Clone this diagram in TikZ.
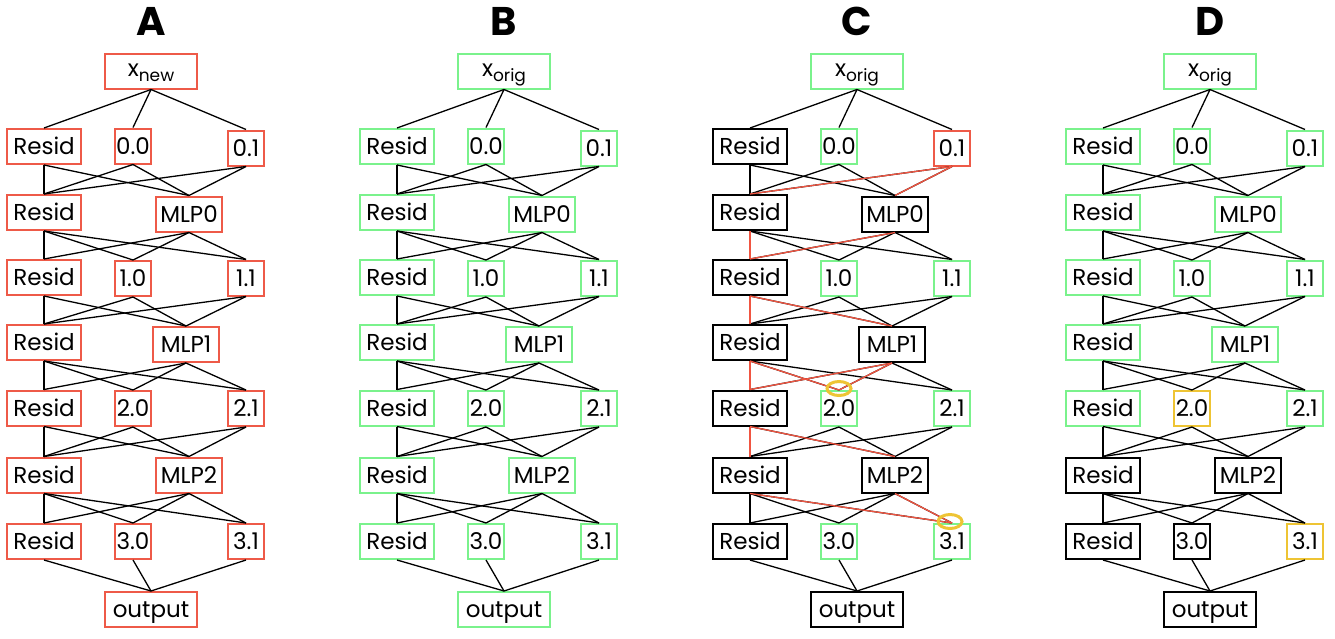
\documentclass[tikz,border=0pt]{standalone}
\usepackage{fontspec}
\setmainfont{Poppins}
\usetikzlibrary{shapes.geometric}
\definecolor{cred}{RGB}{238,90,72}
\definecolor{cgreen}{RGB}{122,242,140}
\definecolor{cyellow}{RGB}{238,196,52}
\definecolor{cedge}{RGB}{240,85,65}
\tikzset{
  box/.style={draw, line width=2pt, inner sep=0pt, minimum height=35pt,
    text height=16pt, text depth=0pt, font=\fontsize{23}{23}\selectfont},
  residbox/.style={minimum width=74pt},
  headbox/.style={minimum width=36pt},
  mlpbox/.style={minimum width=66pt},
  endbox/.style={minimum width=92pt},
  redc/.style={draw=cred}, greenc/.style={draw=cgreen},
  blackc/.style={draw=black}, yellowc/.style={draw=cyellow},
  edge/.style={line width=1.3pt, black},
  redge/.style={line width=1.3pt, cedge},
  paneltitle/.style={font=\fontsize{40}{40}\selectfont\bfseries, anchor=base, inner sep=0pt},
  ring/.style={draw=cyellow, line width=3pt, ellipse, inner sep=0pt, minimum width=24pt, minimum height=14pt},
  A-all/.style={redc}, B-all/.style={greenc}, C-all/.style={blackc}, D-all/.style={blackc},
  C-in/.style={greenc}, C-a0/.style={greenc}, C-b0/.style={redc},
  C-a1/.style={greenc}, C-b1/.style={greenc}, C-a2/.style={greenc}, C-b2/.style={greenc},
  C-a3/.style={greenc}, C-b3/.style={greenc},
  D-in/.style={greenc}, D-r1/.style={greenc}, D-a0/.style={greenc}, D-b0/.style={greenc},
  D-r2/.style={greenc}, D-m0/.style={greenc}, D-r3/.style={greenc}, D-a1/.style={greenc},
  D-b1/.style={greenc}, D-r4/.style={greenc}, D-m1/.style={greenc}, D-r5/.style={greenc},
  D-a2/.style={yellowc}, D-b2/.style={greenc}, D-b3/.style={yellowc},
}
\newcommand\subtxt[1]{\raisebox{-5pt}{\fontsize{17}{17}\selectfont #1}}
\newcommand\drawpanel[4]{%
\begin{scope}[xshift=#2pt]
\node[paneltitle] (#1T) at (151,35) {#3};
\node[box,endbox,#1-all,#1-in/.try,text height=10pt] (#1in) at (151,71) {#4};
\node[box,residbox,#1-all,#1-r1/.try] (#1r1) at (44,146.5) {Resid};
\node[box,headbox,#1-all,#1-a0/.try] (#1a0) at (133,146) {0.0};
\node[box,headbox,#1-all,#1-b0/.try] (#1b0) at (246,148) {0.1};
\node[box,residbox,#1-all,#1-r2/.try] (#1r2) at (44,212.5) {Resid};
\node[box,mlpbox,#1-all,#1-m0/.try] (#1m0) at (189,214) {MLP0};
\node[box,residbox,#1-all,#1-r3/.try] (#1r3) at (44,277.5) {Resid};
\node[box,headbox,#1-all,#1-a1/.try] (#1a1) at (133,278.5) {1.0};
\node[box,headbox,#1-all,#1-b1/.try] (#1b1) at (246,278) {1.1};
\node[box,residbox,#1-all,#1-r4/.try] (#1r4) at (44,342.5) {Resid};
\node[box,mlpbox,#1-all,#1-m1/.try] (#1m1) at (186,344.5) {MLP1};
\node[box,residbox,#1-all,#1-r5/.try] (#1r5) at (44,408) {Resid};
\node[box,headbox,#1-all,#1-a2/.try] (#1a2) at (133,408.5) {2.0};
\node[box,headbox,#1-all,#1-b2/.try] (#1b2) at (246,408.5) {2.1};
\node[box,residbox,#1-all,#1-r6/.try] (#1r6) at (44,475) {Resid};
\node[box,mlpbox,#1-all,#1-m2/.try] (#1m2) at (189,475) {MLP2};
\node[box,residbox,#1-all,#1-r7/.try] (#1r7) at (44,541.5) {Resid};
\node[box,headbox,#1-all,#1-a3/.try] (#1a3) at (133,541.5) {3.0};
\node[box,headbox,#1-all,#1-b3/.try] (#1b3) at (246,541.5) {3.1};
\node[box,endbox,#1-all,#1-out/.try] (#1out) at (151,609.5) {output};
\foreach \v in {r1,a0,b0} \draw[edge] (#1in.south) -- (#1\v.north);
\foreach \u in {r1,a0,b0} \foreach \v in {r2,m0} \draw[edge] (#1\u.south) -- (#1\v.north);
\foreach \u in {r2,m0} \foreach \v in {r3,a1,b1} \draw[edge] (#1\u.south) -- (#1\v.north);
\foreach \u in {r3,a1,b1} \foreach \v in {r4,m1} \draw[edge] (#1\u.south) -- (#1\v.north);
\foreach \u in {r4,m1} \foreach \v in {r5,a2,b2} \draw[edge] (#1\u.south) -- (#1\v.north);
\foreach \u in {r5,a2,b2} \foreach \v in {r6,m2} \draw[edge] (#1\u.south) -- (#1\v.north);
\foreach \u in {r6,m2} \foreach \v in {r7,a3,b3} \draw[edge] (#1\u.south) -- (#1\v.north);
\foreach \u in {r7,a3,b3} \draw[edge] (#1\u.south) -- (#1out.north);
\end{scope}}
\begin{document}
\begin{tikzpicture}[x=1pt,y=-1pt]
\useasboundingbox[fill=white] (0,0) rectangle (1335,638);
\drawpanel{A}{0}{A}{x\subtxt{new}}
\drawpanel{B}{353}{B}{x\subtxt{orig}}
\drawpanel{C}{706}{C}{x\subtxt{orig}}
\drawpanel{D}{1059}{D}{x\subtxt{orig}}
\foreach \u/\v in {b0/r2, b0/m0, r2/r3, m0/r3, r3/r4, r3/m1, r4/r5, r4/a2, m1/a2, m1/r5, r5/r6, r5/m2, r6/b3, m2/b3}
  \draw[redge] (C\u.south) -- (C\v.north);
\node[ring] (ringA) at (839,388.5) {};
\node[ring] (ringB) at (950,521.5) {};
\end{tikzpicture}
\end{document}
